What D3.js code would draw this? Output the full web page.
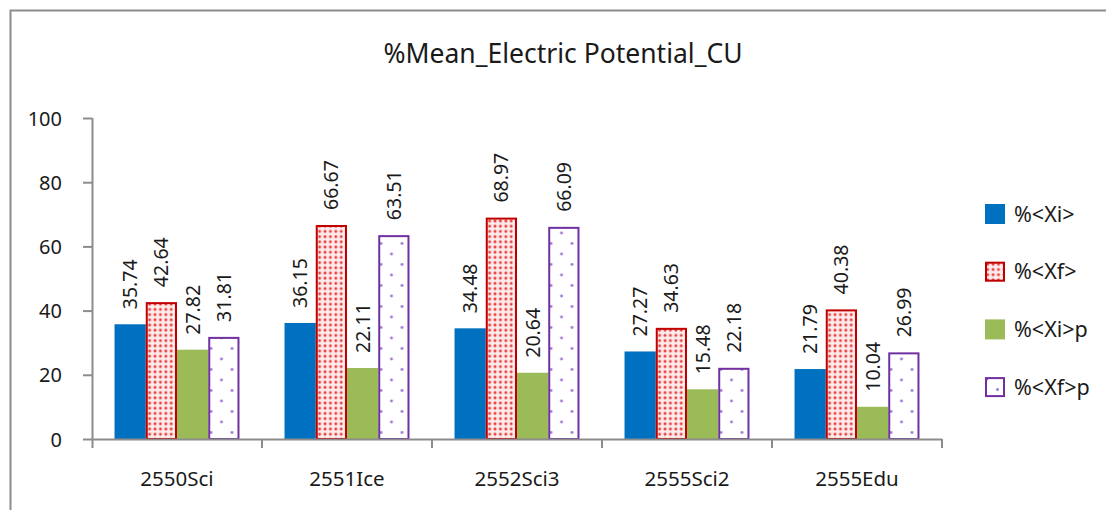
<!DOCTYPE html>
<html>
<head>
<meta charset="utf-8">
<script src="https://cdn.jsdelivr.net/npm/d3@7"></script>
<style>
  html, body { margin: 0; padding: 0; background: #fff; }
  svg { display: block; }
  text { font-family: "Noto Sans", "Open Sans", sans-serif; fill: #1a1a1a; }
</style>
</head>
<body>
<svg id="chart" width="1106" height="510"></svg>
<script>
// Chart data
const categories = ["2550Sci", "2551Ice", "2552Sci3", "2555Sci2", "2555Edu"];
const seriesNames = ["%<Xi>", "%<Xf>", "%<Xi>p", "%<Xf>p"];
const xiValues  = [35.74, 36.15, 34.48, 27.27, 21.79];
const xfValues  = [42.64, 66.67, 68.97, 34.63, 40.38];
const xipValues = [27.82, 22.11, 20.64, 15.48, 10.04];
const xfpValues = [31.81, 63.51, 66.09, 22.18, 26.99];
const yTicks = [0, 20, 40, 60, 80, 100];
const titleText = "%Mean_Electric Potential_CU";

const seriesValues = [xiValues, xfValues, xipValues, xfpValues];

const svg = d3.select("#chart");
const defs = svg.append("defs");

// Dense red dot fill
const pRed = defs.append("pattern").attr("id", "dotsRed")
  .attr("patternUnits", "userSpaceOnUse").attr("width", 5.4).attr("height", 5.2);
pRed.append("rect").attr("width", 5.4).attr("height", 5.2).attr("fill", "#fdeaea");
pRed.append("circle").attr("cx", 2.7).attr("cy", 2.6).attr("r", 1.45).attr("fill", "#e8403f");

// Sparse purple dot fill
const pPur = defs.append("pattern").attr("id", "dotsPurple")
  .attr("patternUnits", "userSpaceOnUse").attr("width", 21).attr("height", 21);
pPur.append("rect").attr("width", 21).attr("height", 21).attr("fill", "#fff");
pPur.append("circle").attr("cx", 2).attr("cy", 2).attr("r", 1.4).attr("fill", "#9e74d2");
pPur.append("circle").attr("cx", 12.5).attr("cy", 12.5).attr("r", 1.4).attr("fill", "#9e74d2");

const styles = [
  { fill: "#0070C0", stroke: "none", sw: 0 },
  { fill: "url(#dotsRed)", stroke: "#C00000", sw: 2 },
  { fill: "#9BBB59", stroke: "none", sw: 0 },
  { fill: "url(#dotsPurple)", stroke: "#7030A0", sw: 2 }
];

// Outer frame (top and left edges visible)
svg.append("path")
  .attr("d", "M10.5,510 V10.5 H1106")
  .attr("fill", "none").attr("stroke", "#8c8c8c").attr("stroke-width", 2);

// Title
svg.append("text")
  .attr("x", 563).attr("y", 63)
  .attr("text-anchor", "middle")
  .attr("font-size", 26.5)
  .text(titleText);

const plot = { left: 92, right: 942, top: 118, bottom: 439 };

const x0 = d3.scaleBand().domain(categories).range([plot.left, plot.right]).padding(0);
const groupW = x0.bandwidth() * 0.735;
const x1 = d3.scaleBand().domain(seriesNames).range([0, groupW]).padding(0);
const y = d3.scaleLinear().domain([0, 100]).range([plot.bottom, plot.top]);

// Y axis
const yAxis = svg.append("g")
  .attr("transform", `translate(${plot.left},0)`)
  .call(d3.axisLeft(y).tickValues(yTicks).tickSize(9).tickSizeOuter(0).tickPadding(21));
yAxis.select(".domain").attr("stroke", "#8c8c8c").attr("stroke-width", 2)
  .attr("d", `M0.5,${plot.top} V${plot.bottom + 9}`);
yAxis.selectAll(".tick line").attr("stroke", "#8c8c8c").attr("stroke-width", 2);
yAxis.selectAll(".tick text").attr("font-size", 20).attr("font-family", "Noto Sans, sans-serif").attr("fill", "#1a1a1a").attr("dy", "0.35em");

// Bars
const groups = svg.append("g").selectAll("g")
  .data(categories)
  .join("g")
  .attr("transform", c => `translate(${x0(c) + (x0.bandwidth() - groupW) / 2},0)`);

seriesNames.forEach((name, si) => {
  const st = styles[si];
  groups.append("rect")
    .attr("x", (c, ci) => x1(name) + st.sw / 2)
    .attr("y", (c, ci) => y(seriesValues[si][ci]) + st.sw / 2)
    .attr("width", x1.bandwidth() - st.sw)
    .attr("height", (c, ci) => Math.max(0, y(0) - y(seriesValues[si][ci]) - st.sw / 2))
    .attr("fill", st.fill)
    .attr("stroke", st.stroke)
    .attr("stroke-width", st.sw);

  groups.append("text")
    .attr("transform", (c, ci) => {
      const cx = x1(name) + x1.bandwidth() / 2;
      const ty = y(seriesValues[si][ci]) - 15;
      return `translate(${cx + 7},${ty}) rotate(-90)`;
    })
    .attr("text-anchor", "start")
    .attr("font-size", 19.5)
    .text((c, ci) => seriesValues[si][ci].toFixed(2));
});

// X axis line with boundary ticks
const xAxis = svg.append("g")
  .attr("transform", `translate(0,${plot.bottom})`);
xAxis.append("line")
  .attr("x1", plot.left).attr("x2", plot.right)
  .attr("y1", 0.5).attr("y2", 0.5)
  .attr("stroke", "#8c8c8c").attr("stroke-width", 2);
const bounds = categories.map(c => x0(c)).concat([x0.range()[1]]).slice(1);
xAxis.selectAll("line.bt").data(bounds).join("line")
  .attr("class", "bt")
  .attr("x1", d => d).attr("x2", d => d)
  .attr("y1", 0).attr("y2", 9)
  .attr("stroke", "#8c8c8c").attr("stroke-width", 2);
xAxis.selectAll("text.cat").data(categories).join("text")
  .attr("class", "cat")
  .attr("x", c => x0(c) + x0.bandwidth() / 2)
  .attr("y", 47)
  .attr("text-anchor", "middle")
  .attr("font-size", 20.5)
  .text(c => c);

// Legend
const legend = svg.append("g").attr("transform", "translate(985,204)");
const items = legend.selectAll("g").data(seriesNames).join("g")
  .attr("transform", (d, i) => `translate(0,${i * 57.7})`);
items.append("rect")
  .attr("x", (d, i) => styles[i].sw / 2)
  .attr("y", (d, i) => styles[i].sw / 2)
  .attr("width", (d, i) => 20 - styles[i].sw)
  .attr("height", (d, i) => 20 - styles[i].sw)
  .attr("fill", (d, i) => styles[i].fill)
  .attr("stroke", (d, i) => styles[i].stroke)
  .attr("stroke-width", (d, i) => styles[i].sw);
items.append("text")
  .attr("x", 29).attr("y", 10)
  .attr("dy", "0.35em")
  .attr("font-size", 21.5)
  .text(d => d);
</script>
</body>
</html>
